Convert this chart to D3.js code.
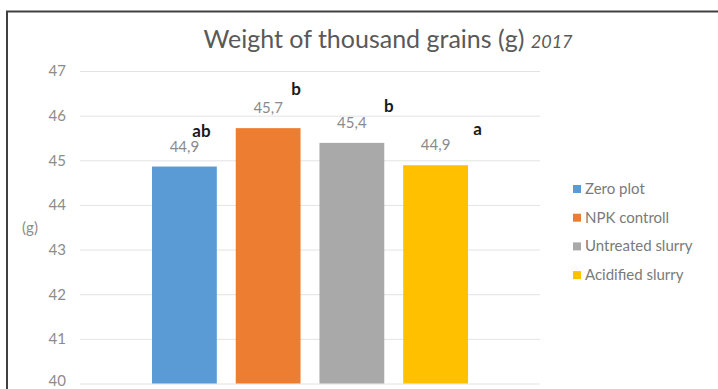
<!DOCTYPE html>
<html>
<head>
<meta charset="utf-8">
<script src="https://cdn.jsdelivr.net/npm/d3@7"></script>
<style>
  html, body { margin: 0; padding: 0; background: #fff; }
  svg { display: block; font-family: Lato, "Open Sans", sans-serif; }
</style>
</head>
<body>
<svg id="chart" width="718" height="389"></svg>
<script>
// ---- data ----
const series = ["Zero plot", "NPK controll", "Untreated slurry", "Acidified slurry"];
const values = [44.86, 45.72, 45.39, 44.89];
const valueLabels = ["44,9", "45,7", "45,4", "44,9"];
const letters = ["ab", "b", "b", "a"];
const letterLevels = [45.52, 46.46, 46.08, 45.57];
const colors = ["#5b9bd5", "#ed7d31", "#a9a9a9", "#ffc000"];
const yTicks = [40, 41, 42, 43, 44, 45, 46, 47];
const titleMain = "Weight of thousand grains (g)";
const titleYear = "2017";
const yAxisLabel = "(g)";

// ---- layout ----
const letterDx = [17, 28, 37, 42];
const svg = d3.select("#chart");

// frame
svg.append("line").attr("x1", 6).attr("x2", 718).attr("y1", 11.5).attr("y2", 11.5)
  .attr("stroke", "#404040").attr("stroke-width", 2);
svg.append("line").attr("x1", 7).attr("x2", 7).attr("y1", 11).attr("y2", 389)
  .attr("stroke", "#404040").attr("stroke-width", 2);

const y = d3.scaleLinear().domain([40, 47]).range([383.5, 71]);
const x = d3.scaleBand().domain(series).range([80, 540]).paddingInner(0.226).paddingOuter(0.86);

// gridlines + tick labels via axis
const yAxis = d3.axisLeft(y).tickValues(yTicks).tickFormat(d3.format("d"))
  .tickSize(-(540 - 80)).tickPadding(14);
const gAxis = svg.append("g").attr("transform", "translate(80,0)").call(yAxis);
gAxis.select(".domain").remove();
gAxis.selectAll(".tick line").attr("stroke", "#e3e3e3").attr("stroke-width", 1);
gAxis.selectAll(".tick text").attr("fill", "#8c8c8c")
  .attr("font-size", 15).attr("font-family", "Lato, sans-serif")
  .attr("dy", d => d === 40 ? "0.15em" : "0.32em");

// bars
svg.append("g").selectAll("rect").data(series).join("rect")
  .attr("x", d => x(d))
  .attr("width", x.bandwidth())
  .attr("y", (d, i) => y(values[i]))
  .attr("height", (d, i) => y(40) - y(values[i]))
  .attr("fill", (d, i) => colors[i]);

// value labels
svg.append("g").selectAll("text").data(series).join("text")
  .attr("x", d => x(d) + x.bandwidth() / 2)
  .attr("y", (d, i) => y(values[i]) - 15)
  .attr("text-anchor", "middle")
  .attr("fill", "#8a8a8a")
  .attr("font-size", 15)
  .text((d, i) => valueLabels[i]);

// significance letters
svg.append("g").selectAll("text").data(series).join("text")
  .attr("x", (d, i) => x(d) + x.bandwidth() / 2 + letterDx[i])
  .attr("y", (d, i) => y(letterLevels[i]))
  .attr("text-anchor", "middle")
  .attr("fill", "#1a1a1a")
  .attr("font-size", 17)
  .attr("font-weight", "bold")
  .text((d, i) => letters[i]);

// y-axis label
svg.append("text").attr("x", 30).attr("y", 233).attr("text-anchor", "middle")
  .attr("fill", "#8c8c8c").attr("font-size", 15).text(yAxisLabel);

// title
const t = svg.append("text").attr("x", 388).attr("y", 48).attr("text-anchor", "middle")
  .attr("fill", "#595959");
t.append("tspan").attr("font-size", 25).text(titleMain + " ");
t.append("tspan").attr("font-size", 18).attr("font-style", "italic").text(titleYear);

// legend
const lg = svg.append("g").selectAll("g").data(series).join("g")
  .attr("transform", (d, i) => `translate(573, ${189 + i * 28.7})`);
lg.append("rect").attr("x", 0).attr("y", -4).attr("width", 8).attr("height", 8)
  .attr("fill", (d, i) => colors[i]);
lg.append("text").attr("x", 12).attr("y", 5).attr("fill", "#7a7a7a")
  .attr("font-size", 15).text(d => d);
</script>
</body>
</html>
